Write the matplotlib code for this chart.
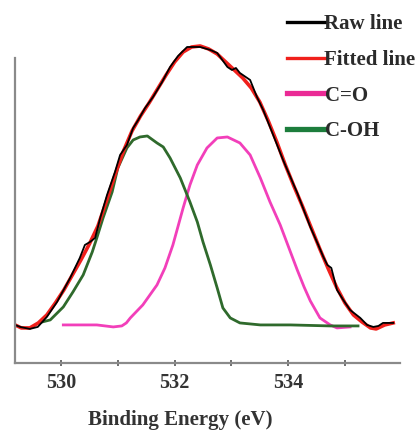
import matplotlib
matplotlib.use("Agg")
import matplotlib.pyplot as plt
from matplotlib.lines import Line2D

# binding energy (eV) / intensity (a.u.)
raw_energy = [529.19, 529.28, 529.45, 529.59, 529.75, 529.93, 530.16, 530.33, 530.42,
              530.51, 530.60, 530.69, 530.81, 530.95, 531.04, 531.16, 531.27, 531.36,
              531.48, 531.62, 531.78, 531.92, 532.06, 532.22, 532.45, 532.63, 532.75,
              532.84, 532.93, 533.01, 533.08, 533.15, 533.33, 533.45, 533.56, 533.68,
              533.91, 534.16, 534.39, 534.53, 534.62, 534.69, 534.76, 534.86, 534.97,
              535.09, 535.27, 535.39, 535.50, 535.59, 535.67, 535.85]
raw_counts = [0.38, 0.36, 0.34, 0.36, 0.46, 0.61, 0.85, 1.05, 1.18,
              1.21, 1.25, 1.45, 1.68, 1.91, 2.08, 2.18, 2.35, 2.43,
              2.55, 2.66, 2.81, 2.96, 3.07, 3.16, 3.16, 3.13, 3.10,
              3.03, 2.96, 2.93, 2.95, 2.90, 2.83, 2.66, 2.53, 2.36,
              2.03, 1.70, 1.36, 1.18, 1.06, 0.98, 0.95, 0.73, 0.63,
              0.53, 0.45, 0.38, 0.36, 0.37, 0.40, 0.40]

fit_energy = [529.19, 529.30, 529.45, 529.60, 529.75, 529.90, 530.05, 530.20, 530.35,
              530.50, 530.65, 530.80, 530.95, 531.10, 531.25, 531.40, 531.55, 531.70,
              531.85, 532.00, 532.15, 532.30, 532.45, 532.60, 532.75, 532.90, 533.05,
              533.20, 533.35, 533.50, 533.65, 533.80, 533.95, 534.10, 534.25, 534.40,
              534.55, 534.70, 534.85, 535.00, 535.15, 535.30, 535.45, 535.55, 535.70,
              535.85]
fit_counts = [0.38, 0.35, 0.35, 0.40, 0.48, 0.60, 0.73, 0.88, 1.03,
              1.19, 1.37, 1.62, 1.88, 2.12, 2.32, 2.47, 2.60, 2.74,
              2.88, 3.01, 3.11, 3.16, 3.17, 3.14, 3.09, 3.01, 2.93,
              2.85, 2.75, 2.61, 2.42, 2.21, 1.98, 1.77, 1.57, 1.36,
              1.15, 0.95, 0.76, 0.60, 0.48, 0.41, 0.35, 0.34, 0.38,
              0.40]

coh_energy = [529.67, 529.81, 530.04, 530.21, 530.39, 530.55, 530.63, 530.74, 530.90,
              531.00, 531.16, 531.27, 531.39, 531.52, 531.69, 531.80, 531.92, 532.10,
              532.27, 532.40, 532.50, 532.63, 532.75, 532.85, 532.98, 533.15, 533.51,
              534.04, 534.74, 535.23]
coh_counts = [0.41, 0.43, 0.56, 0.71, 0.88, 1.11, 1.25, 1.45, 1.71,
              1.95, 2.15, 2.23, 2.26, 2.27, 2.20, 2.16, 2.05, 1.85,
              1.61, 1.41, 1.21, 0.98, 0.75, 0.55, 0.45, 0.40, 0.38,
              0.38, 0.37, 0.37]

co_energy = [530.04, 530.63, 530.92, 531.07, 531.15, 531.22, 531.44, 531.69, 531.83,
             531.97, 532.15, 532.27, 532.40, 532.57, 532.75, 532.93, 533.15, 533.33,
             533.51, 533.68, 533.86, 534.00, 534.16, 534.28, 534.39, 534.56, 534.74,
             534.86, 535.09]
co_counts = [0.38, 0.38, 0.36, 0.37, 0.40, 0.45, 0.58, 0.78, 0.95,
             1.18, 1.55, 1.78, 1.98, 2.15, 2.25, 2.26, 2.20, 2.08,
             1.85, 1.61, 1.38, 1.17, 0.93, 0.76, 0.62, 0.45, 0.38,
             0.35, 0.36]

major_ticks = [530, 532, 534]
minor_ticks = [531, 533, 535]
legend_labels = ["Raw line", "Fitted line", "C=O", "C-OH"]

c_raw, c_fit, c_co, c_coh = "black", "#f0201c", "#f23fba", "#2f6a2c"
serif = ["Liberation Serif", "DejaVu Serif"]

fig = plt.figure(figsize=(4.18, 4.30), dpi=100)
ax = fig.add_axes([0.036, 0.156, 0.921, 0.751])

ax.plot(co_energy, co_counts, color=c_co, lw=2.0, solid_joinstyle="round")
ax.plot(coh_energy, coh_counts, color=c_coh, lw=2.0, solid_joinstyle="round")
ax.plot(fit_energy, fit_counts, color=c_fit, lw=2.6, solid_joinstyle="round")
ax.plot(raw_energy, raw_counts, color=c_raw, lw=1.3, solid_joinstyle="round")

ax.set_xlim(529.19, 535.97)
ax.set_ylim(0, 3.23)
ax.set_xticks(major_ticks)
ax.set_xticks(minor_ticks, minor=True)
ax.set_yticks([])
for s in ["top", "right"]:
    ax.spines[s].set_visible(False)
for s in ["left", "bottom"]:
    ax.spines[s].set_color("#8a8a8a")
    ax.spines[s].set_linewidth(1.6)
ax.spines["left"].set_bounds(0, 3.05)
ax.tick_params(axis="x", which="both", direction="inout", length=4, width=1.2,
               color="#555555", pad=5)
for lab in ax.get_xticklabels():
    lab.set_fontfamily(serif)
    lab.set_fontweight("bold")
    lab.set_fontsize(14.5)
    lab.set_color("#333333")

ax.set_xlabel("Binding Energy (eV)", family=serif, fontweight="bold",
              fontsize=15, color="#333333")
ax.xaxis.set_label_coords(0.43, -0.145)

handles = [Line2D([], [], color=c_raw, lw=2.4),
           Line2D([], [], color=c_fit, lw=2.4),
           Line2D([], [], color="#ea2a95", lw=3.8),
           Line2D([], [], color="#1c7d3c", lw=3.8)]
leg = fig.legend(handles, legend_labels, loc="upper left",
                 bbox_to_anchor=(287 / 418, 1 - 14 / 430), frameon=False,
                 handlelength=1.8, handletextpad=0.0, labelspacing=0.76,
                 borderpad=0, borderaxespad=0,
                 prop={"family": serif, "weight": "bold", "size": 15})
for t in leg.get_texts():
    t.set_color("#2a2a2a")

fig.savefig("out.png", dpi=100)
